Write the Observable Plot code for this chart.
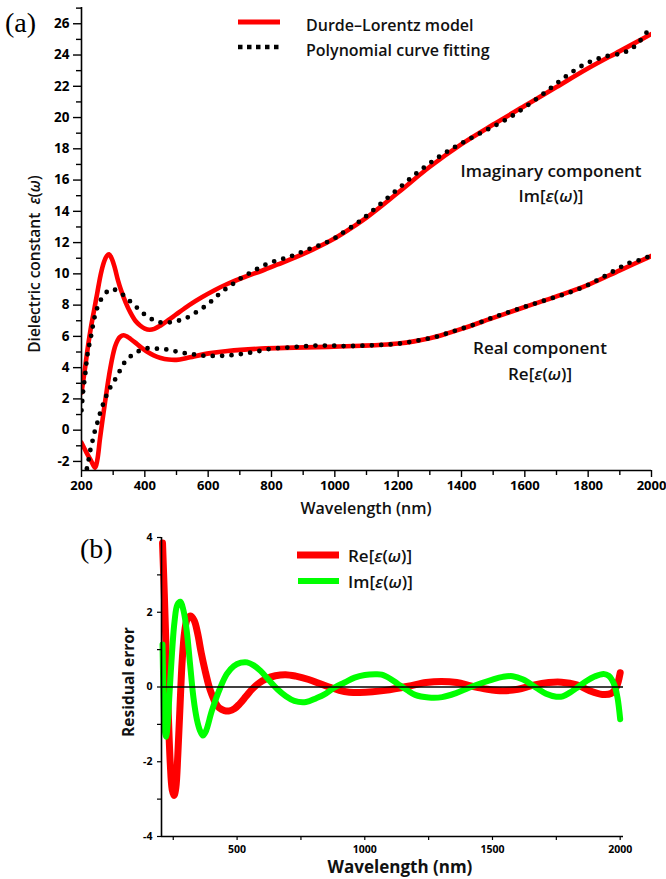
<!DOCTYPE html>
<html>
<head>
<meta charset="utf-8">
<script src="https://cdn.jsdelivr.net/npm/d3@7"></script>
<script src="https://cdn.jsdelivr.net/npm/@observablehq/plot@0.6"></script>
<style>
  html, body { margin: 0; padding: 0; background: #fff; }
  #wrap { position: relative; width: 666px; height: 879px; overflow: hidden; }
  #wrap svg { position: absolute; left: 0; }
</style>
</head>
<body>
<div id="wrap"></div>
<script>
// ---------- Panel (a): Drude–Lorentz model (solid red) ----------
const dlImWl = [200,210,220,230,240,250,260,270,280,287,295,305,315,325,340,355,370,385,400,415,430,450,475,500,540,580,620,660,715,770,820,875,930,980,1030,1100,1200,1300,1400,1500,1600,1700,1800,1900,2000];
const dlIm   = [2.4,3.8,5.3,6.6,7.7,8.8,9.9,10.7,11.15,11.25,11.0,10.4,9.6,8.95,8.15,7.5,7.0,6.7,6.5,6.42,6.48,6.7,7.05,7.42,8.0,8.5,8.95,9.35,9.8,10.2,10.6,11.05,11.55,12.05,12.65,13.6,15.2,16.85,18.3,19.55,20.75,21.95,23.15,24.25,25.35];

const dlReWl = [200,215,230,243,250,258,266,274,282,290,298,306,314,322,333,345,354,370,386,405,428,450,475,500,530,555,608,661,767,873,979,1084,1150,1200,1250,1300,1350,1400,1500,1600,1700,1800,1900,2000];
const dlRe   = [-0.8,-1.4,-1.95,-2.4,-1.9,-0.6,0.6,1.75,2.85,3.85,4.7,5.35,5.75,5.97,6.07,5.98,5.85,5.6,5.33,5.05,4.79,4.62,4.52,4.5,4.6,4.72,4.93,5.07,5.22,5.28,5.33,5.4,5.46,5.54,5.68,5.88,6.16,6.48,7.18,7.88,8.56,9.3,10.22,11.15];

// ---------- Panel (a): polynomial curve fitting (black dots) ----------
const pfImWl = [200,205,212,219,230,241,250,263,285,300,316,345,375,404,433,462,491,523,552,583,613,641,671,700,730,761,789,819,849,877,907,937,967,997,1023,1082,1141,1200,1259,1318,1377,1436,1495,1554,1613,1672,1731,1790,1848,1907,1937,1965,1990];
const pfIm   = [1.27,2.45,3.6,4.86,6.0,7.2,7.84,8.4,8.93,9.0,8.9,8.4,7.84,7.33,7.0,6.86,6.95,7.1,7.42,7.82,8.3,8.82,9.25,9.68,10.04,10.38,10.66,10.87,11.04,11.25,11.5,11.72,11.96,12.25,12.6,13.42,14.42,15.44,16.45,17.34,18.09,18.75,19.37,20.03,20.84,21.73,22.65,23.42,23.87,24.12,24.4,24.93,25.6];

const pfReWl = [217,221,226,233,240,248,256,266,277,290,306,322,341,371,401,431,462,491,521,550,580,610,639,669,699,728,758,788,817,847,877,908,936,966,995,1026,1083,1142,1200,1258,1317,1376,1435,1494,1553,1613,1671,1730,1790,1847,1907,1936,1965,1990];
const pfRe   = [-2.45,-2.07,-1.45,-0.86,-0.22,0.32,0.91,1.53,2.13,2.7,3.24,3.83,4.47,4.94,5.22,5.22,5.18,5.07,4.94,4.86,4.77,4.75,4.75,4.79,4.86,4.94,5.05,5.18,5.24,5.28,5.33,5.37,5.41,5.41,5.41,5.38,5.4,5.45,5.53,5.72,5.96,6.34,6.72,7.17,7.58,7.98,8.35,8.73,9.2,9.79,10.48,10.75,10.9,11.1];

// ---------- Panel (b): residual errors ----------
const resReWl = [208,215,222,230,238,246,253,260,268,276,285,295,305,318,332,345,360,375,390,401,415,430,450,470,490,510,535,560,585,615,650,690,730,780,820,860,900,940,980,1030,1080,1170,1240,1300,1360,1420,1480,1540,1600,1660,1720,1770,1830,1880,1930,1965,1985,2000];
const resRe   = [3.85,2.5,1.0,-0.6,-2.0,-2.75,-2.9,-2.7,-1.8,-0.6,0.7,1.5,1.82,1.9,1.78,1.45,0.9,0.43,0.02,-0.2,-0.42,-0.56,-0.63,-0.64,-0.58,-0.45,-0.25,-0.05,0.1,0.22,0.3,0.33,0.29,0.2,0.1,0.0,-0.09,-0.14,-0.15,-0.13,-0.09,0.02,0.12,0.15,0.12,0.02,-0.06,-0.1,-0.06,0.05,0.12,0.13,0.06,-0.1,-0.2,-0.17,0.0,0.38];

const resImWl = [208,212,216,222,228,236,245,255,266,278,290,303,316,329,342,355,366,378,401,434,460,487,515,539,565,592,625,658,690,724,770,810,842,880,921,960,1000,1040,1066,1100,1132,1165,1197,1250,1303,1355,1408,1455,1500,1540,1579,1620,1671,1710,1750,1775,1803,1835,1868,1900,1935,1955,1967,1980,1990,2000];
const resIm   = [1.14,-0.3,-1.1,-1.33,-1.0,-0.1,0.9,1.75,2.2,2.28,2.05,1.49,0.6,-0.28,-0.85,-1.17,-1.3,-1.18,-0.64,-0.02,0.35,0.56,0.65,0.66,0.58,0.43,0.18,-0.06,-0.24,-0.37,-0.4,-0.3,-0.2,-0.02,0.12,0.25,0.32,0.34,0.33,0.22,0.07,-0.08,-0.21,-0.28,-0.27,-0.17,-0.02,0.1,0.2,0.27,0.29,0.2,-0.02,-0.18,-0.26,-0.25,-0.15,0.0,0.16,0.28,0.35,0.3,0.2,0.0,-0.3,-0.86];

// ---------- Ticks ----------
const topXMajor = d3.range(200, 2001, 200);
const topXMinor = d3.range(300, 2000, 200);
const topYMajor = d3.range(-2, 27, 2);
const topYMinor = d3.range(-1, 28, 2);
const botXTicks = d3.range(250, 2001, 250);
const botYMajor = [-4, -2, 0, 2, 4];
const botYMinor = [-3, -1, 1, 3];

const pts = (xs, ys) => xs.map((x, i) => ({x, y: ys[i]}));

const FONT = "Open Sans, Lato, sans-serif";
const wrap = document.getElementById("wrap");

// ---------- Panel (a) ----------
const plotA = Plot.plot({
  width: 666, height: 520,
  marginLeft: 81, marginRight: 15, marginTop: 7, marginBottom: 50,
  style: {fontFamily: FONT, color: "#000", background: "transparent", overflow: "visible"},
  x: {domain: [200, 2000]},
  y: {domain: [-2.58, 27.04]},
  marks: [
    Plot.line(pts(dlImWl, dlIm), {x: "x", y: "y", stroke: "#ff0000", strokeWidth: 4.6, curve: "catmull-rom", clip: true}),
    Plot.line(pts(dlReWl, dlRe), {x: "x", y: "y", stroke: "#ff0000", strokeWidth: 4.6, curve: "catmull-rom", clip: true}),
    Plot.line(pts(pfImWl, pfIm), {x: "x", y: "y", stroke: "#000", strokeWidth: 4.8, strokeDasharray: "0 9.4", strokeLinecap: "round", curve: "catmull-rom", clip: true}),
    Plot.line(pts(pfReWl, pfRe), {x: "x", y: "y", stroke: "#000", strokeWidth: 4.8, strokeDasharray: "0 9.4", strokeLinecap: "round", curve: "catmull-rom", clip: true}),
    Plot.ruleX([200], {stroke: "#000", strokeWidth: 1.6}),
    Plot.ruleY([-2.58], {stroke: "#000", strokeWidth: 1.6}),
    Plot.axisX(topXMajor, {tickSize: 7, tickPadding: 3, fontSize: 13, fontWeight: "bold", tickFormat: d => String(d), label: null, strokeWidth: 1.4}),
    Plot.axisX(topXMinor, {tickSize: 5, tickFormat: () => "", label: null, strokeWidth: 1.4}),
    Plot.axisY(topYMajor, {tickSize: 8, tickPadding: 4, fontSize: 13.5, fontWeight: "bold", tickFormat: d => String(d), label: null, strokeWidth: 1.4}),
    Plot.axisY(topYMinor, {tickSize: 5, tickFormat: () => "", label: null, strokeWidth: 1.4})
  ]
});
plotA.style.top = "0px";
wrap.appendChild(plotA);

// ---------- Panel (b) ----------
const plotB = Plot.plot({
  width: 666, height: 359,
  marginLeft: 161, marginRight: 43, marginTop: 17, marginBottom: 43,
  style: {fontFamily: FONT, color: "#000", background: "transparent", overflow: "visible"},
  x: {domain: [204, 2013]},
  y: {domain: [-4, 4]},
  marks: [
    Plot.line(pts(resReWl, resRe), {x: "x", y: "y", stroke: "#ff0000", strokeWidth: 7, curve: "catmull-rom"}),
    Plot.line(pts(resImWl, resIm), {x: "x", y: "y", stroke: "#00ff00", strokeWidth: 6, curve: "catmull-rom"}),
    Plot.ruleY([0], {stroke: "#000", strokeWidth: 1.3}),
    Plot.ruleX([204], {stroke: "#000", strokeWidth: 1.6}),
    Plot.ruleY([-4], {stroke: "#000", strokeWidth: 1.6}),
    Plot.axisX(botXTicks, {tickSize: 4, tickPadding: 5, fontSize: 10.5, fontWeight: "bold", tickFormat: d => (d % 500 === 0 ? String(d) : ""), label: null, strokeWidth: 1.2}),
    Plot.axisY(botYMajor, {tickSize: 4, tickPadding: 5, fontSize: 10.5, fontWeight: "bold", tickFormat: d => String(d), label: null, strokeWidth: 1.2}),
    Plot.axisY(botYMinor, {tickSize: 4, tickFormat: () => "", label: null, strokeWidth: 1.2})
  ]
});
plotB.style.top = "520px";
wrap.appendChild(plotB);

// ---------- Annotations, labels, legends ----------
function addText(svg, x, y, parts, opts = {}) {
  const t = d3.select(svg).append("text")
    .attr("x", x).attr("y", y)
    .attr("font-family", opts.family || FONT)
    .attr("font-size", opts.size || 16)
    .attr("font-weight", opts.weight || 600)
    .attr("fill", opts.fill || "#111")
    .attr("text-anchor", opts.anchor || "start")
    .attr("dominant-baseline", "central");
  if (opts.rotate) t.attr("transform", `rotate(-90 ${x} ${y})`);
  for (const p of parts) {
    const s = t.append("tspan").text(p.t || p);
    if (p.i) s.attr("font-style", "italic");
  }
  return t;
}
const eps = [{t: "ε", i: true}, "(", {t: "ω", i: true}, ")"];

// panel (a)
addText(plotA, 5, 22, ["(a)"], {family: "Liberation Serif, Times New Roman, serif", size: 28, fill: "#000", weight: "normal"});
addText(plotA, 34, 264, ["Dielectric constant  ", ...eps], {size: 15.5, rotate: true, anchor: "middle"});
addText(plotA, 366, 508, ["Wavelength (nm)"], {size: 16, anchor: "middle"});
addText(plotA, 551, 170, ["Imaginary component"], {size: 17, anchor: "middle"});
addText(plotA, 551, 195, ["Im[", ...eps, "]"], {size: 17, anchor: "middle"});
addText(plotA, 540, 347, ["Real component"], {size: 17, anchor: "middle"});
addText(plotA, 540, 373, ["Re[", ...eps, "]"], {size: 17, anchor: "middle"});
// legend (a)
d3.select(plotA).append("line").attr("x1", 238).attr("x2", 280).attr("y1", 22).attr("y2", 22)
  .attr("stroke", "#ff0000").attr("stroke-width", 5);
d3.select(plotA).append("line").attr("x1", 238).attr("x2", 282).attr("y1", 47).attr("y2", 47)
  .attr("stroke", "#000").attr("stroke-width", 4.5).attr("stroke-dasharray", "4.5 4.5");
addText(plotA, 306, 25, ["Durde–Lorentz model"], {size: 16});
addText(plotA, 306, 50, ["Polynomial curve fitting"], {size: 16});

// panel (b)
addText(plotB, 80, 28, ["(b)"], {family: "Liberation Serif, Times New Roman, serif", size: 28, fill: "#000", weight: "normal"});
addText(plotB, 128, 162, ["Residual error"], {size: 15.5, weight: "bold", rotate: true, anchor: "middle"});
addText(plotB, 400, 346, ["Wavelength (nm)"], {size: 17, weight: "bold", anchor: "middle"});
d3.select(plotB).append("line").attr("x1", 297).attr("x2", 339).attr("y1", 35).attr("y2", 35)
  .attr("stroke", "#ff0000").attr("stroke-width", 7);
d3.select(plotB).append("line").attr("x1", 298).attr("x2", 339).attr("y1", 61).attr("y2", 61)
  .attr("stroke", "#00ff00").attr("stroke-width", 6);
addText(plotB, 348, 35, ["Re[", ...eps, "]"], {size: 17});
addText(plotB, 348, 61, ["Im[", ...eps, "]"], {size: 17});
</script>
</body>
</html>
